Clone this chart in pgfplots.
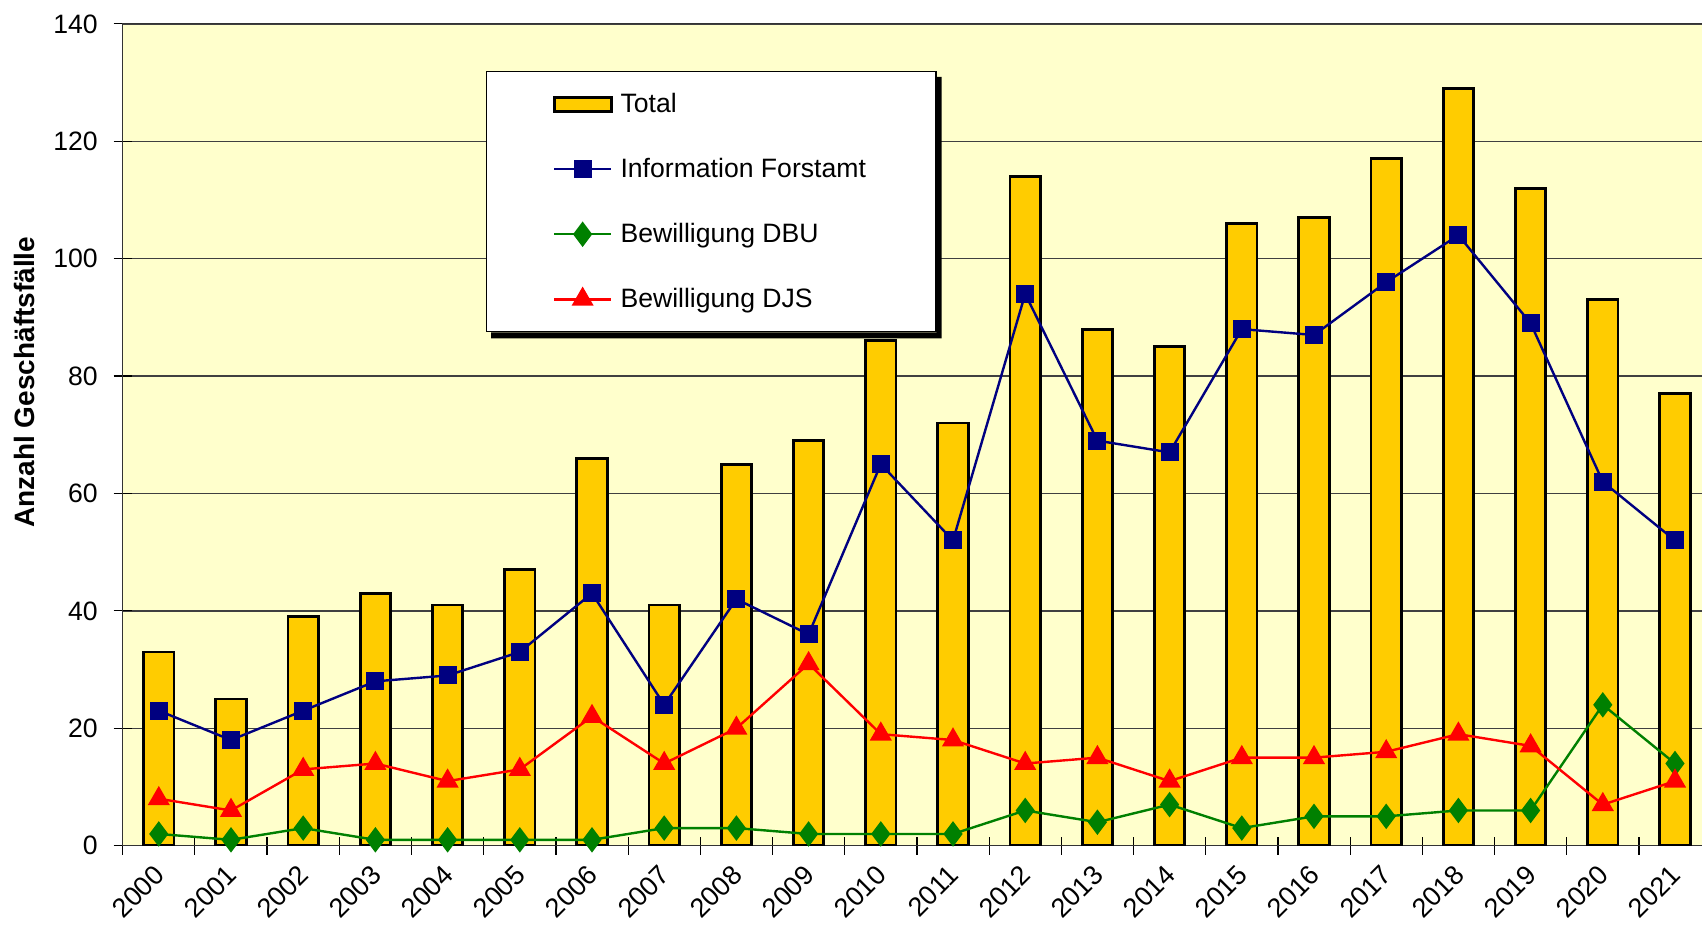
\documentclass[border=0pt]{standalone}
\usepackage{pgfplots}
\pgfplotsset{compat=1.18}
\usepackage{fontspec}
\setmainfont{Liberation Sans}

\definecolor{plotbg}{HTML}{FFFFCC}
\definecolor{bargold}{HTML}{FFCC00}
\definecolor{navyline}{HTML}{000080}
\definecolor{dbugreen}{HTML}{008000}
\definecolor{djsred}{HTML}{FF0000}

\pgfplotsset{
  barleg/.style={legend image code/.code={\draw[##1] (0pt,-3.5pt) rectangle (28.5pt,3.5pt);}},
  lineleg/.style={legend image code/.code={%
    \draw[##1, mark=none] (0pt,0pt) -- (28.5pt,0pt);
    \draw[##1, only marks] plot coordinates {(14.25pt,0pt)};}},
}

% year index, Total, Information Forstamt, Bewilligung DBU, Bewilligung DJS
\pgfplotstableread{
x  total info dbu djs
0  33  23  2  8
1  25  18  1  6
2  39  23  3  13
3  43  28  1  14
4  41  29  1  11
5  47  33  1  13
6  66  43  1  22
7  41  24  3  14
8  65  42  3  20
9  69  36  2  31
10 86  65  2  19
11 72  52  2  18
12 114 94  6  14
13 88  69  4  15
14 85  67  7  11
15 106 88  3  15
16 107 87  5  15
17 117 96  5  16
18 129 104 6  19
19 112 89  6  17
20 93  62  24 7
21 77  52  14 11
}\datatable

\begin{document}
\begin{tikzpicture}
\useasboundingbox (-61.35pt,-42.2pt) rectangle (789.65pt,422.85pt);
\clip (-61.35pt,-42.2pt) rectangle (789.65pt,422.85pt);
\begin{axis}[
    at={(0pt,0pt)}, anchor=south west,
    scale only axis, width=794.2pt, height=410.9pt,
    font=\fontsize{13.3}{16}\selectfont,
    /pgf/number format/assume math mode=true,
    axis background/.style={fill=plotbg},
    axis line style={black!80, line width=0.6pt},
    xmin=-0.5, xmax=21.5, ymin=0, ymax=140,
    xtick={0,...,21},
    xticklabels={2000,2001,2002,2003,2004,2005,2006,2007,2008,2009,2010,2011,2012,2013,2014,2015,2016,2017,2018,2019,2020,2021},
    minor xtick={-0.5,0.5,...,21.5},
    ytick={0,20,...,140},
    minor ytick={0,20,...,140},
    major tick length=0pt,
    minor tick length=9pt,
    tick align=center,
    tick pos=left,
    tick style={black, line width=0.6pt},
    ymajorgrids=true,
    major grid style={black!75, line width=0.7pt},
    xticklabel style={xshift=-3pt, yshift=-4pt, rotate=45, anchor=north east,
      font=\fontsize{13.5}{16}\selectfont},
    yticklabel style={xshift=-9pt, font=\fontsize{13.3}{16}\selectfont},
    ylabel={\bfseries Anzahl Geschäftsfälle},
    ylabel style={at={(axis description cs:-0.062,0.564)}, anchor=center, rotate=0,
      font=\fontsize{14}{17}\selectfont},
    legend style={name=leg, at={(axis description cs:0.2288,0.9427)}, anchor=north west,
      draw=black, line width=0.6pt, fill=white,
      inner xsep=33pt, inner ysep=8.7pt, row sep=17.4pt, column sep=2pt,
      font=\fontsize{13.3}{16}\selectfont},
    legend cell align=left,
]
\addplot[ybar, bar width=15.2pt, fill=bargold, draw=black, line width=1.4pt, barleg]
  table[x=x, y=total] {\datatable};
\addlegendentry{Total}
\addplot[navyline, line width=1.2pt, mark=square*, mark size=3.9pt,
  mark options={solid, fill=navyline}, lineleg]
  table[x=x, y=info] {\datatable};
\addlegendentry{Information Forstamt}
\addplot[dbugreen, line width=1.2pt, mark=diamond*, mark size=5.4pt,
  mark options={solid, fill=dbugreen}, lineleg]
  table[x=x, y=dbu] {\datatable};
\addlegendentry{Bewilligung DBU}
\addplot[djsred, line width=1.2pt, mark=triangle*, mark size=5.2pt,
  mark options={solid, fill=djsred}, lineleg]
  table[x=x, y=djs] {\datatable};
\addlegendentry{Bewilligung DJS}
\end{axis}
% drop shadow of the legend box
\fill[black] ([yshift=-3pt]leg.north east) -- ++(2.5pt,0pt)
  -- ([xshift=2.5pt,yshift=-3pt]leg.south east)
  -- ([xshift=2.5pt,yshift=-3pt]leg.south west)
  -- ([xshift=2.5pt]leg.south west) -- (leg.south east) -- cycle;
\end{tikzpicture}
\end{document}
